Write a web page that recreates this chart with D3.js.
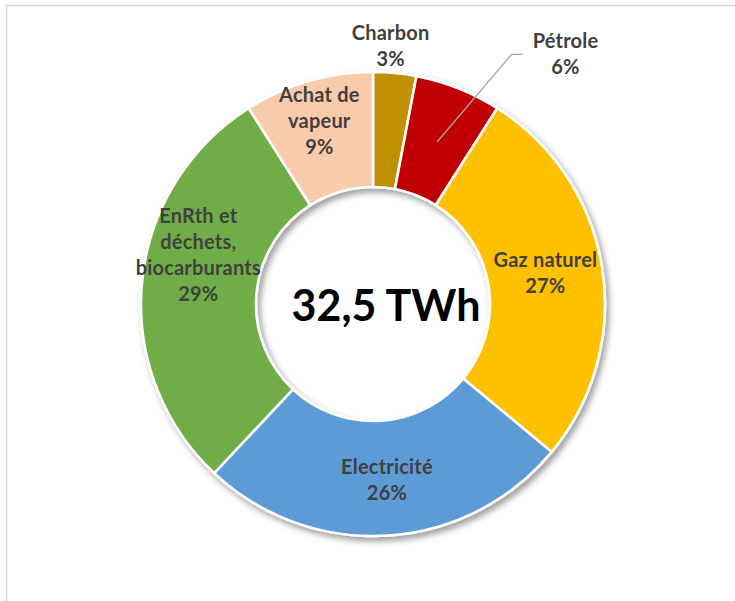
<!DOCTYPE html>
<html><head><meta charset="utf-8">
<script src="https://cdn.jsdelivr.net/npm/d3@7"></script>
<style>html,body{margin:0;padding:0;background:#fff;}svg{display:block;}</style>
</head><body>
<script>
// ---- data ----
const categories = ["Charbon", "Pétrole", "Gaz naturel", "Electricité", "EnRth et déchets, biocarburants", "Achat de vapeur"];
const labelLines = [["Charbon"], ["Pétrole"], ["Gaz naturel"], ["Electricité"], ["EnRth et", "déchets,", "biocarburants"], ["Achat de", "vapeur"]];
const values = [3, 6, 27, 26, 29, 9];
const colors = ["#BF9000", "#C00000", "#FFC000", "#5B9BD5", "#70AD47", "#F8CBAD"];
const totalLabel = "32,5 TWh";

// ---- layout ----
const W = 735, H = 601;
const cx = 373, cy = 304, rOuter = 232, rInner = 117;
const FONT = "Lato, 'Open Sans', sans-serif";
const lineH = 26;
const labelCfg = {
  "Charbon": {outside: true, r: 262, dx: -7, dy: 3},
  "Pétrole": {outside: true, r: 262, dx: 96, dy: -6, leader: true},
  "Gaz naturel": {dx: 0, dy: -4},
  "Electricité": {dx: 3, dy: 2},
  "EnRth et déchets, biocarburants": {dx: -1, dy: -33},
  "Achat de vapeur": {dx: -5, dy: -15}
};

const svg = d3.select("body").append("svg").attr("width", W).attr("height", H);
const defs = svg.append("defs");
const f = defs.append("filter").attr("id", "sh").attr("x", "-20%").attr("y", "-20%").attr("width", "140%").attr("height", "140%");
f.append("feDropShadow").attr("dx", 3).attr("dy", 4).attr("stdDeviation", 3)
  .attr("flood-color", "#000").attr("flood-opacity", 0.38);

// frame
svg.append("rect").attr("x", 6.5).attr("y", 5.5).attr("width", 900).attr("height", 900)
  .attr("fill", "none").attr("stroke", "#d9d9d9").attr("stroke-width", 1.6);

const pie = d3.pie().sort(null).value(d => d)(values);
const arc = d3.arc().innerRadius(rInner).outerRadius(rOuter);
const midArc = d3.arc().innerRadius((rInner + rOuter) / 2).outerRadius((rInner + rOuter) / 2);

const g = svg.append("g").attr("transform", `translate(${cx},${cy})`);
g.append("g").attr("filter", "url(#sh)")
  .selectAll("path").data(pie).join("path")
  .attr("d", arc).attr("fill", (d, i) => colors[i])
  .attr("stroke", "#fff").attr("stroke-width", 2.6).attr("stroke-linejoin", "round");

// labels
pie.forEach((d, i) => {
  const cfg = labelCfg[categories[i]];
  let x, y;
  if (cfg.outside) {
    const a = (d.startAngle + d.endAngle) / 2;
    x = cfg.r * Math.sin(a) + cfg.dx;
    y = -cfg.r * Math.cos(a) + cfg.dy;
  } else {
    const c = midArc.centroid(d);
    x = c[0] + cfg.dx; y = c[1] + cfg.dy;
  }
  const lines = labelLines[i].concat([values[i] + "%"]);
  const n = lines.length;
  const t = g.append("text").attr("text-anchor", "middle")
    .attr("font-family", FONT).attr("font-weight", 700).attr("font-size", 20)
    .attr("letter-spacing", 0.2)
    .attr("fill", "#404040");
  lines.forEach((s, k) => {
    t.append("tspan").attr("x", x).attr("y", y + 7 - (n - 1) * lineH / 2 + k * lineH).text(s);
  });
  if (cfg.leader) {
    const c = midArc.centroid(d);
    const bb = t.node().getBBox();
    const ex = bb.x - 10, ey = y;
    g.insert("polyline", "text")
      .attr("points", `${c[0]},${c[1]} ${ex - 11},${ey} ${ex},${ey}`)
      .attr("fill", "none").attr("stroke", "#a6a6a6").attr("stroke-width", 1.3);
  }
});

// center total
g.append("text").attr("x", 13).attr("y", 17).attr("text-anchor", "middle")
  .attr("font-family", FONT).attr("font-weight", 700).attr("font-size", 43)
  .attr("fill", "#000").text(totalLabel);
</script>
</body></html>
